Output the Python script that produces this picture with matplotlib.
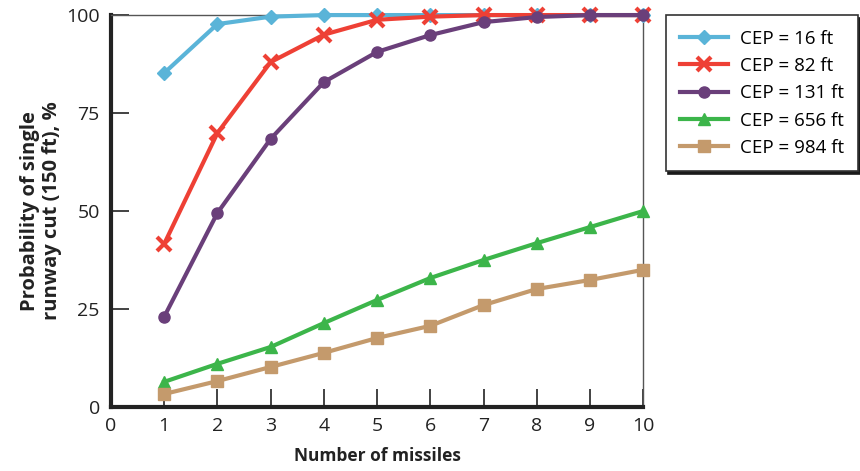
import matplotlib
matplotlib.use("Agg")
import matplotlib.pyplot as plt

missiles = [1, 2, 3, 4, 5, 6, 7, 8, 9, 10]
cep16 = [85.2, 97.7, 99.6, 100, 100, 100, 100, 100, 100, 100]
cep82 = [41.6, 69.9, 88.0, 95.0, 98.8, 99.6, 100, 100, 100, 100]
cep131 = [23.0, 49.5, 68.4, 82.9, 90.6, 94.9, 98.2, 99.5, 100, 100]
cep656 = [6.4, 11.0, 15.3, 21.4, 27.3, 32.9, 37.5, 41.8, 45.9, 50.0]
cep984 = [3.3, 6.6, 10.2, 13.8, 17.6, 20.7, 26.0, 30.1, 32.4, 35.0]
labels = ["CEP = 16 ft", "CEP = 82 ft", "CEP = 131 ft", "CEP = 656 ft", "CEP = 984 ft"]
xticks = [0, 1, 2, 3, 4, 5, 6, 7, 8, 9, 10]
yticks = [0, 25, 50, 75, 100]

plt.rcParams['font.family'] = ['Open Sans', 'DejaVu Sans']

fig = plt.figure(figsize=(8.6, 4.71), dpi=100)
ax = fig.add_axes([0.129, 0.136, 0.619, 0.832])

series = [cep16, cep82, cep131, cep656, cep984]
colors = ['#5ab4d8', '#ee4035', '#6a3f7a', '#3cb54a', '#c49a6c']
markers = ['D', 'x', 'o', '^', 's']
msizes = [7, 10, 8, 9, 8]
for ys, c, m, ms, lab in zip(series, colors, markers, msizes, labels):
    ax.plot(missiles, ys, color=c, lw=3, marker=m, ms=ms, mew=3 if m == 'x' else 1,
            mec=c, mfc=c, label=lab, clip_on=False, zorder=3)

ax.set_xlim(0, 10)
ax.set_ylim(0, 100)
ax.set_xticks(xticks)
ax.set_yticks(yticks)
ax.tick_params(direction='in', length=13, width=1.2, color='#222222', labelsize=14,
               labelcolor='#222222')
ax.tick_params(axis='x', pad=7)
ax.tick_params(axis='y', pad=8)
for s in ['left', 'bottom']:
    ax.spines[s].set_linewidth(3)
    ax.spines[s].set_color('#222222')
for s in ['top', 'right']:
    ax.spines[s].set_linewidth(1)
    ax.spines[s].set_color('#555555')

ax.set_xlabel("Number of missiles", fontsize=12.5, fontweight='bold', color='#222222', labelpad=9)
ax.set_ylabel("Probability of single\nrunway cut (150 ft), %", fontsize=14.5, fontweight='bold',
              color='#222222', labelpad=3, linespacing=1.12)

leg = ax.legend(loc='upper left', bbox_to_anchor=(0.763, 0.987), bbox_transform=fig.transFigure,
                fontsize=13.5, frameon=True, fancybox=False, handlelength=2.6,
                handletextpad=0.6, borderpad=0.75, labelspacing=0.5, edgecolor='#333333',
                shadow={'color': '#1a1a1a', 'alpha': 1})
leg.get_frame().set_linewidth(1.2)
leg.set_zorder(5)

fig.savefig("out.png", dpi=100)
